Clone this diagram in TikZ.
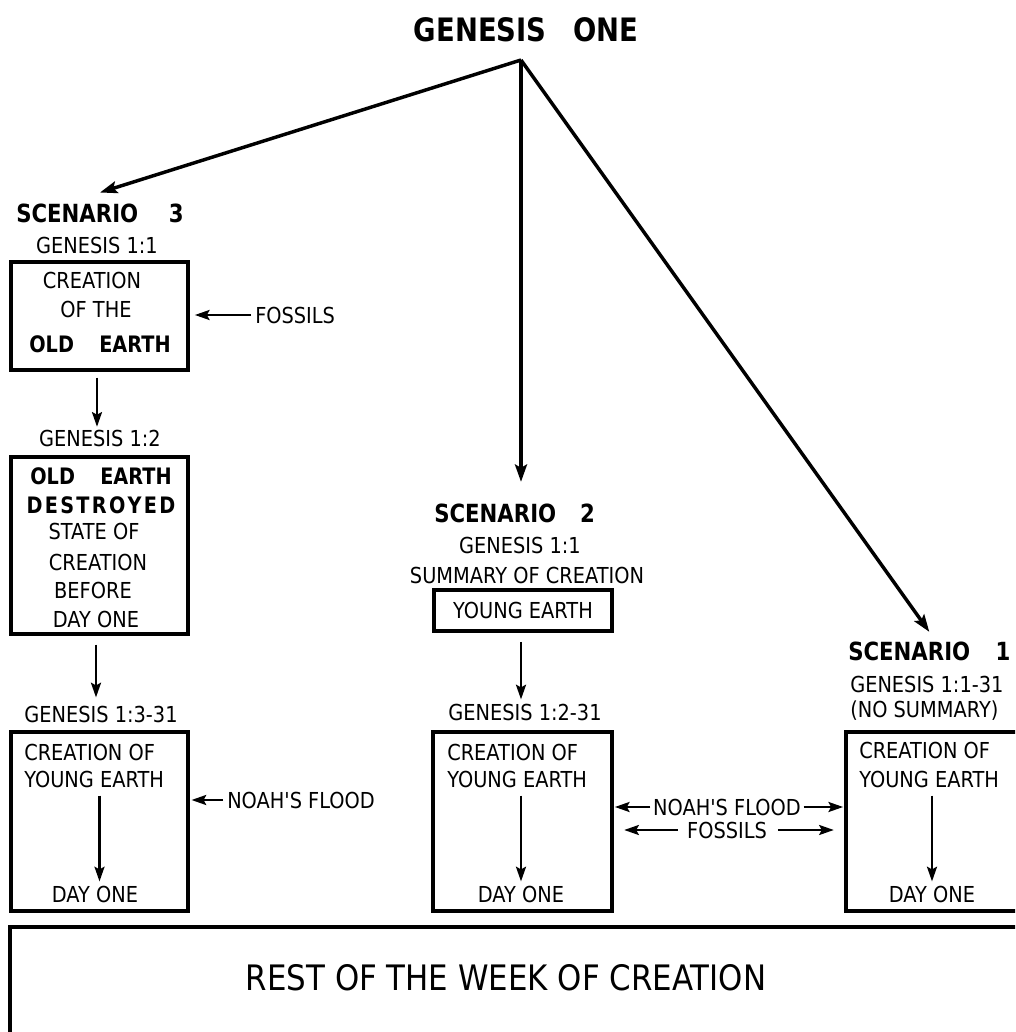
\documentclass[tikz,border=0pt]{standalone}
\usepackage{fontspec}
\newfontfamily\nf{DejaVu Sans}[FakeStretch=0.88]
\newfontfamily\bff{DejaVu Sans}[FakeStretch=0.85]
\usetikzlibrary{arrows.meta}
\begin{document}
\begin{tikzpicture}[x=0.75pt,y=-0.75pt,
  txt/.style={inner sep=0pt, anchor=base, font=\nf\fontsize{16.5}{19}\selectfont},
  txtl/.style={txt, anchor=base west},
  hd/.style={inner sep=0pt, anchor=base west, font=\bff\bfseries\fontsize{18.75}{21}\selectfont},
  bd/.style={inner sep=0pt, anchor=base, font=\bff\bfseries\fontsize{17}{19}\selectfont},
  ttl/.style={inner sep=0pt, anchor=base, font=\bff\bfseries\fontsize{24.2}{26}\selectfont},
  bx/.style={draw, line width=2.3pt, inner sep=0pt},
  arr/.style={line width=1.8pt, -{Stealth[length=11pt,width=7.5pt,inset=2pt]}},
  big/.style={line width=2.6pt, -{Stealth[length=13pt,width=9pt,inset=2.5pt]}}]
\useasboundingbox (0,0) rectangle (1015,1032);
\clip (0,0) rectangle (1015,1032);

% title
\node[ttl] (title) at (526,41) {GENESIS\hspace{20pt}ONE};
\coordinate (apex) at (521,60);

% ---------- scenario 3 ----------
\node[hd] (s3) at (16,222) {SCENARIO\hspace{23pt}3};
\node[txt] (s3g) at (97,253) {GENESIS 1:1};
\node[bx, minimum width=132.75pt, minimum height=81pt] (b1) at (99.5,316) {};
\node[txt] (b1a) at (92,288) {CREATION};
\node[txt] (b1b) at (96,317) {OF THE};
\node[bd] (b1c) at (100,352) {OLD\hspace{19pt}EARTH};
\node[txtl] (fos3) at (255,323) {FOSSILS};

\node[txt] (g12) at (100,446) {GENESIS 1:2};
\node[bx, minimum width=132.75pt, minimum height=132.75pt] (b2) at (99.5,545.5) {};
\node[bd] (b2a) at (101,484) {OLD\hspace{19pt}EARTH};
\node[bd] (b2b) at (101,513) {D\kern1.7pt E\kern1.7pt S\kern1.7pt T\kern1.7pt R\kern1.7pt O\kern1.7pt Y\kern1.7pt E\kern1.7pt D};
\node[txt] (b2c) at (94,539) {STATE OF};
\node[txt] (b2d) at (98,570) {CREATION};
\node[txt] (b2e) at (93,598) {BEFORE};
\node[txt] (b2f) at (96,627) {DAY ONE};

\node[txt] (g13) at (101,722) {GENESIS 1:3-31};
\node[bx, minimum width=132.75pt, minimum height=134.25pt] (b3) at (99.5,821.5) {};
\node[txtl] (c3) at (24,760) {CREATION OF};
\node[txtl] (ye3) at (24,787) {YOUNG EARTH};
\node[txt] (d3) at (95,902) {DAY ONE};
\node[txtl] (nf3) at (227,808) {NOAH'S FLOOD};

% ---------- scenario 2 ----------
\node[hd] (s2) at (434,522) {SCENARIO\hspace{18pt}2};
\node[txt] (s2g) at (520,553) {GENESIS 1:1};
\node[txt] (s2s) at (527,583) {SUMMARY OF CREATION};
\node[bx, minimum width=133.5pt, minimum height=30.75pt, font=\nf\fontsize{16.5}{19}\selectfont] (ye2) at (523,610.5) {YOUNG EARTH};
\node[txt] (g22) at (525,720) {GENESIS 1:2-31};
\node[bx, minimum width=134.25pt, minimum height=134.25pt] (b5) at (522.5,821.5) {};
\node[txtl] (c5) at (447,760) {CREATION OF};
\node[txtl] (ye5) at (447,787) {YOUNG EARTH};
\node[txt] (d5) at (521,902) {DAY ONE};
\node[txt] (nfm) at (727,815) {NOAH'S FLOOD};
\node[txt] (fom) at (727,838) {FOSSILS};

% ---------- scenario 1 ----------
\node[hd] (s1) at (848,660) {SCENARIO\hspace{19pt}1};
\node[txtl] (s1g) at (850,692) {GENESIS 1:1-31};
\node[txtl] (s1n) at (850,717) {(NO SUMMARY)};
\node[bx, minimum width=138pt, minimum height=134.25pt] (b6) at (938,821.5) {};
\node[txtl] (c6) at (859,758) {CREATION OF};
\node[txtl] (ye6) at (859,787) {YOUNG EARTH};
\node[txt] (d6) at (932,902) {DAY ONE};

% ---------- rest ----------
\node[bx, minimum width=765pt, minimum height=88.5pt] (rest) at (520,986) {};
\node[inner sep=0pt, anchor=base, font=\nf\fontsize{26.3}{30}\selectfont] (restt) at (506,990) {REST OF THE WEEK OF CREATION};

% ---------- connectors ----------
\draw[big] (apex) -- ([yshift=8pt]s3.north);
\draw[big] (apex) -- ([yshift=16pt]apex |- s2.north);
\draw[big] (apex) -- ([yshift=7pt]s1.north);

\draw[arr] ([xshift=-3pt]fos3.west) -- ([xshift=4pt]fos3.west -| b1.east);
\draw[arr] ([yshift=-4.5pt]b1.south -| s3g.south) -- ([yshift=2pt]g12.north -| s3g.south);
\draw[arr] ([yshift=-6.75pt]b2.south -| b2f.south) -- ([yshift=6pt]g13.north -| b2f.south);
\draw[arr] ([yshift=-6pt]ye3.south -| b1.south) -- ([yshift=3pt]d3.north -| b1.south);
\draw[arr] ([xshift=-3pt]nf3.west) -- ([xshift=1.5pt]nf3.west -| b3.east);

\draw[arr] ([yshift=-7pt]ye2.south -| apex) -- ([yshift=3pt]g22.north -| apex);
\draw[arr] ([yshift=-6pt]ye5.south -| apex) -- ([yshift=3pt]d5.north -| apex);
\draw[arr] ([xshift=-2pt]nfm.west) -- ([xshift=1pt]nfm.west -| b5.east);
\draw[arr] ([xshift=2pt]nfm.east) -- ([xshift=-1pt]nfm.east -| b6.west);
\draw[arr] ([xshift=-7pt]fom.west) -- ([xshift=8pt]fom.west -| b5.east);
\draw[arr] ([xshift=8pt]fom.east) -- ([xshift=-8pt]fom.east -| b6.west);

\draw[arr] ([yshift=-6pt]ye6.south -| d6.south) -- ([yshift=3pt]d6.north);
\end{tikzpicture}
\end{document}
